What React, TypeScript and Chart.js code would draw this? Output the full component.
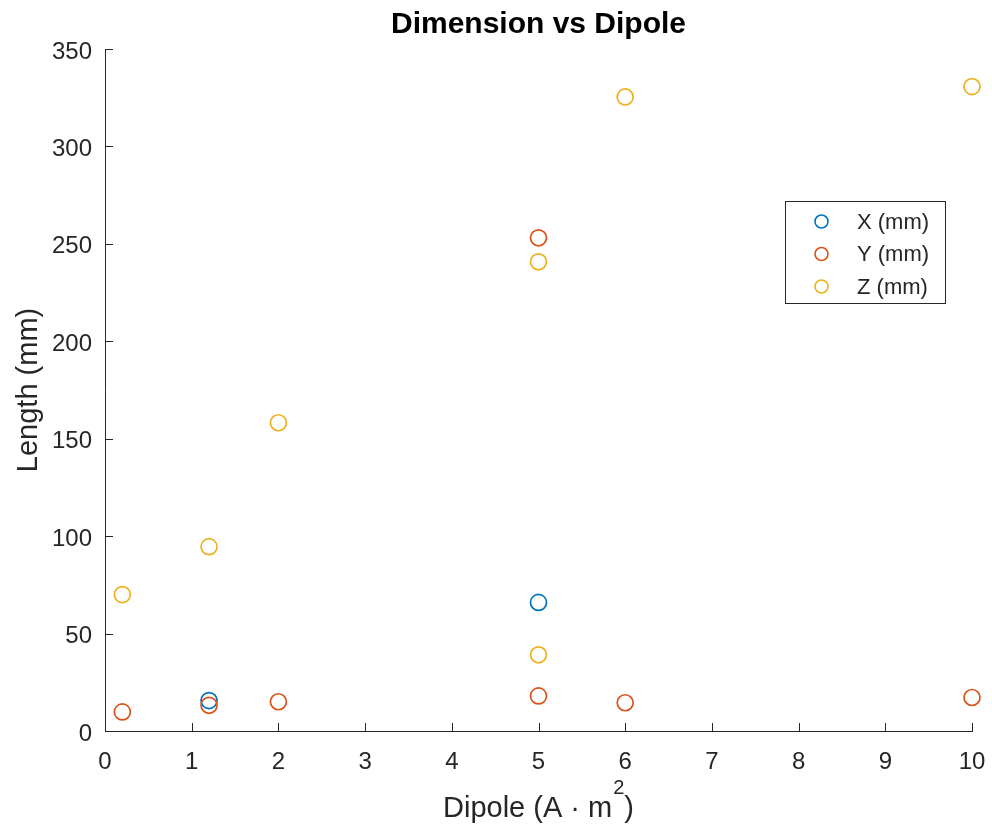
import { useEffect, useRef } from "react";
import { Chart, registerables } from "chart.js";

Chart.register(...registerables);

// Measured dimensions against magnetic dipole moment
const xDipole = [1.2, 5];
const xLength = [15.6, 66.0];
const yDipole = [0.2, 1.2, 2, 5, 5, 6, 10];
const yLength = [9.8, 13.2, 15.0, 253.1, 18.0, 14.5, 17.2];
const zDipole = [0.2, 1.2, 2, 5, 5, 6, 10];
const zLength = [70.0, 94.6, 158.2, 240.8, 39.1, 325.4, 330.7];

const seriesLabels = ["X (mm)", "Y (mm)", "Z (mm)"];
const seriesColors = ["#0072BD", "#D95319", "#EDB120"];

const xTickValues = [0, 1, 2, 3, 4, 5, 6, 7, 8, 9, 10];
const yTickValues = [0, 50, 100, 150, 200, 250, 300, 350];

const chartTitle = "Dimension vs Dipole";
// x-axis title: base text, superscript exponent, closing text
const xAxisTitleParts = ["Dipole (A \u00B7 m", "2", ")"];
const yAxisTitle = "Length (mm)";

const FONT = "'Liberation Sans', Arial, Helvetica, sans-serif";
const AXIS_COLOR = "#262626";

const toPoints = (xs: number[], ys: number[]) => xs.map((x, i) => ({ x, y: ys[i] }));

// Inward tick marks, titles and a boxed legend drawn on top of the plot
const decorations = {
  id: "decorations",
  afterDraw(chart: any) {
    const { ctx, chartArea, scales } = chart;
    const { left, right, top, bottom } = chartArea;
    ctx.save();

    ctx.strokeStyle = AXIS_COLOR;
    ctx.lineWidth = 1;
    ctx.beginPath();
    for (const v of xTickValues) {
      const px = Math.round(scales.x.getPixelForValue(v)) + 0.5;
      ctx.moveTo(px, bottom);
      ctx.lineTo(px, bottom - 8);
    }
    for (const v of yTickValues) {
      const py = Math.round(scales.y.getPixelForValue(v)) + 0.5;
      ctx.moveTo(left, py);
      ctx.lineTo(left + 8, py);
    }
    ctx.stroke();

    const cx = (left + right) / 2;

    // title
    ctx.fillStyle = "#000000";
    ctx.font = `bold 30px ${FONT}`;
    ctx.textAlign = "center";
    ctx.textBaseline = "alphabetic";
    ctx.fillText(chartTitle, cx, 33);

    // x-axis title with superscript exponent
    ctx.fillStyle = AXIS_COLOR;
    const mainFont = `29px ${FONT}`;
    const supFont = `20px ${FONT}`;
    ctx.font = mainFont;
    const w0 = ctx.measureText(xAxisTitleParts[0]).width;
    const w2 = ctx.measureText(xAxisTitleParts[2]).width;
    ctx.font = supFont;
    const w1 = ctx.measureText(xAxisTitleParts[1]).width + 1;
    let tx = cx - (w0 + w1 + w2) / 2;
    ctx.textAlign = "left";
    ctx.font = mainFont;
    ctx.fillText(xAxisTitleParts[0], tx, 817);
    tx += w0;
    ctx.font = supFont;
    ctx.fillText(xAxisTitleParts[1], tx + 1, 794);
    tx += w1;
    ctx.font = mainFont;
    ctx.fillText(xAxisTitleParts[2], tx, 817);

    // y-axis title
    ctx.save();
    ctx.translate(37, (top + bottom) / 2);
    ctx.rotate(-Math.PI / 2);
    ctx.textAlign = "center";
    ctx.font = `29px ${FONT}`;
    ctx.fillText(yAxisTitle, 0, 0);
    ctx.restore();

    // legend
    const lx = 785.5;
    const ly = 201.5;
    const lw = 160;
    const lh = 102;
    ctx.fillStyle = "#ffffff";
    ctx.fillRect(lx, ly, lw, lh);
    ctx.strokeStyle = AXIS_COLOR;
    ctx.lineWidth = 1;
    ctx.strokeRect(lx, ly, lw, lh);
    ctx.font = `22px ${FONT}`;
    ctx.textAlign = "left";
    ctx.textBaseline = "middle";
    chart.data.datasets.forEach((ds: any, i: number) => {
      const cy = 221.5 + i * 32.5;
      ctx.beginPath();
      ctx.strokeStyle = ds.borderColor;
      ctx.lineWidth = 1.6;
      ctx.arc(821.5, cy, 6.5, 0, Math.PI * 2);
      ctx.stroke();
      ctx.fillStyle = AXIS_COLOR;
      ctx.fillText(ds.label, 857, cy + 1);
    });

    ctx.restore();
  },
};

export default function App() {
  const canvasRef = useRef<HTMLCanvasElement | null>(null);

  useEffect(() => {
    const canvas = canvasRef.current;
    if (!canvas) return;

    const series = [
      toPoints(xDipole, xLength),
      toPoints(yDipole, yLength),
      toPoints(zDipole, zLength),
    ];

    const chart = new Chart(canvas, {
      type: "scatter",
      data: {
        datasets: series.map((data, i) => ({
          label: seriesLabels[i],
          data,
          borderColor: seriesColors[i],
          backgroundColor: "rgba(0,0,0,0)",
          pointRadius: 8,
          pointHoverRadius: 8,
          pointBorderWidth: 1.7,
          borderWidth: 1.7,
          clip: false,
          order: 3 - i,
        })),
      },
      options: {
        responsive: false,
        animation: false,
        events: [],
        layout: { padding: { left: 0, right: 20, top: 49, bottom: 0 } },
        plugins: {
          legend: { display: false },
          title: { display: false },
          tooltip: { enabled: false },
        },
        scales: {
          x: {
            type: "linear",
            min: 0,
            max: 10,
            afterBuildTicks: (scale: any) => {
              scale.ticks = xTickValues.map((value) => ({ value }));
            },
            afterFit: (scale: any) => {
              scale.height = 96;
              scale.paddingLeft = 0;
              scale.paddingRight = 0;
            },
            grid: { display: false, drawTicks: false },
            border: { display: true, color: AXIS_COLOR, width: 1 },
            ticks: {
              color: AXIS_COLOR,
              font: { family: FONT, size: 24 },
              padding: 17,
              maxRotation: 0,
              autoSkip: false,
            },
          },
          y: {
            type: "linear",
            min: 0,
            max: 350,
            afterBuildTicks: (scale: any) => {
              scale.ticks = yTickValues.map((value) => ({ value }));
            },
            afterFit: (scale: any) => {
              scale.width = 105;
              scale.paddingTop = 0;
              scale.paddingBottom = 0;
            },
            grid: { display: false, drawTicks: false },
            border: { display: true, color: AXIS_COLOR, width: 1 },
            ticks: {
              color: AXIS_COLOR,
              font: { family: FONT, size: 24 },
              padding: 13,
              labelOffset: 3,
              autoSkip: false,
            },
          },
        },
      },
      plugins: [decorations],
    });

    return () => chart.destroy();
  }, []);

  return (
    <div style={{ position: "absolute", left: 0, top: 0, width: 992, height: 827, background: "#ffffff" }}>
      <canvas ref={canvasRef} width={992} height={827} style={{ display: "block" }} />
    </div>
  );
}
